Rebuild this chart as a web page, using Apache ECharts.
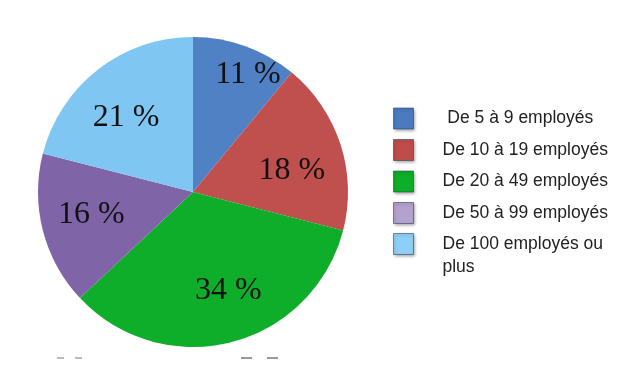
<!DOCTYPE html>
<html><head><meta charset="utf-8">
<script src="https://cdn.jsdelivr.net/npm/echarts@6/dist/echarts.min.js"></script>
<style>html,body{margin:0;padding:0;background:#fff}#c{width:636px;height:382px}</style>
</head><body><div id="c"></div>
<script>
const categories = ['De 5 à 9 employés','De 10 à 19 employés','De 20 à 49 employés','De 50 à 99 employés','De 100 employés ou plus'];
const values = [11, 18, 34, 16, 21];
const sliceColors = ['#4F81C4','#C0504D','#0EAD2A','#8064A8','#80C6F2'];
const legendColors = ['#4A7BC0','#BE4D4A','#0DAE28','#B3A2CC','#8ECFF5'];

const data = categories.map((n,i)=>({name:n, value:values[i], itemStyle:{color:sliceColors[i]}}));
const labelData = categories.map((n,i)=>({name:n, value:values[i]}));

const chart = echarts.init(document.getElementById('c'), null, {renderer:'canvas'});
const legendCommon = {
  orient:'vertical', left:393, padding:0, itemWidth:20, itemHeight:21, itemGap:8.5,
  icon:'rect', selectedMode:false,
  textStyle:{fontFamily:'Liberation Sans, Arial, sans-serif', fontSize:17.5, color:'#222', lineHeight:23},
  itemStyle:{borderColor:'rgba(40,60,90,0.55)', borderWidth:1, shadowBlur:3, shadowColor:'rgba(0,0,0,0.35)', shadowOffsetX:1, shadowOffsetY:1.5}
};
const labelShift = [[19,-18],[-2,11],[9,-4],[1,-4],[-2,9]];
chart.setOption({
  animation:false,
  legend:[
    Object.assign({}, legendCommon, {
      top:107,
      data: categories.slice(0,4).map((n,i)=>({name:n, itemStyle:{color:legendColors[i]}})),
      formatter: (n)=> n === categories[0] ? ' ' + n : n,
      textStyle: Object.assign({}, legendCommon.textStyle, {padding:[0,0,0,24]})
    }),
    Object.assign({}, legendCommon, {
      top:209.5,
      data: [{name:categories[4], itemStyle:{color:legendColors[4]}}],
      formatter: ()=> ' \nDe 100 employés ou\nplus',
      textStyle: Object.assign({}, legendCommon.textStyle, {padding:[0,0,0,24]})
    })
  ],
  series:[
    {
      type:'pie', center:[193,192], radius:[0,155], startAngle:90, clockwise:true,
      silent:true, label:{show:false}, labelLine:{show:false},
      itemStyle:{borderWidth:0}, data:data
    },
    {
      type:'pie', center:[193,192], radius:[0,206], startAngle:90, clockwise:true,
      silent:true, itemStyle:{color:'rgba(0,0,0,0)', borderWidth:0},
      label:{show:true, position:'inside', formatter:'{c} %', fontFamily:'Liberation Serif, DejaVu Serif, serif', fontSize:32, color:'#111'},
      labelLine:{show:false},
      labelLayout:(p)=> ({dx:labelShift[p.dataIndex][0], dy:labelShift[p.dataIndex][1]}),
      data:labelData
    }
  ],
  graphic:[
    {type:'rect', shape:{x:57,y:357,width:7,height:2}, style:{fill:'#bbb'}},
    {type:'rect', shape:{x:75,y:357,width:7,height:2}, style:{fill:'#bbb'}},
    {type:'rect', shape:{x:241,y:357,width:11,height:2}, style:{fill:'#999'}},
    {type:'rect', shape:{x:267,y:357,width:11,height:2}, style:{fill:'#999'}}
  ]
});
</script></body></html>
